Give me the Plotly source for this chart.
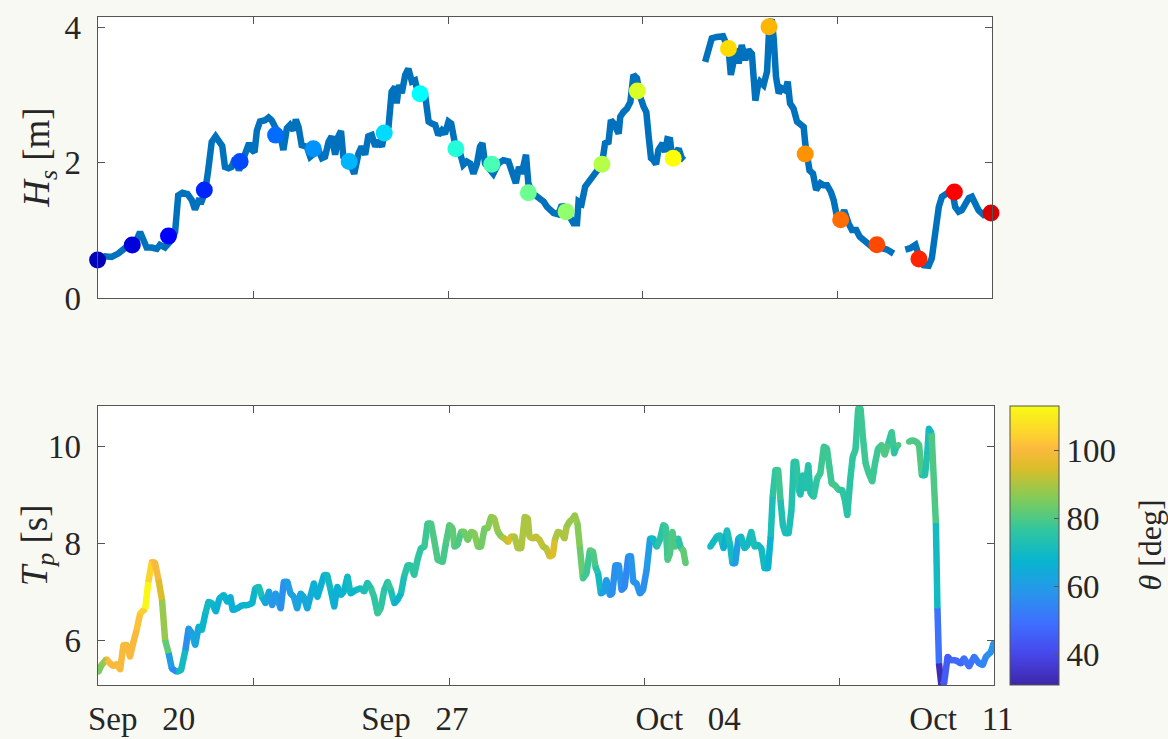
import pandas as pd
import plotly.graph_objects as go
from plotly.colors import sample_colorscale

# ---------------------------------------------------------------------------
# Data
# ---------------------------------------------------------------------------
RECORD_START = pd.Timestamp("2023-09-19 00:00")

# Significant wave height: time in days since RECORD_START, Hs in metres
# (None marks a gap in the record)
hs_day = [0.00, 0.19, 0.36, 0.53, 0.70, 0.88, 1.00, 1.09, 1.18, 1.26, 1.39, 1.52,
          1.60, 1.73, 1.90, 1.99, 2.07, 2.18, 2.31, 2.42, 2.50, 2.59, 2.67, 2.76,
          2.84, 2.93, 3.03, 3.12, 3.20, 3.27, 3.36, 3.44, 3.53, 3.63, 3.74, 3.83,
          3.89, 3.96, 4.03, 4.09, 4.17, 4.30, 4.39, 4.47, 4.56, 4.64, 4.71, 4.77,
          4.86, 4.94, 5.03, 5.09, 5.16, 5.24, 5.37, 5.46, 5.54, 5.67, 5.76, 5.84,
          5.93, 6.01, 6.10, 6.18, 6.25, 6.31, 6.40, 6.48, 6.59, 6.70, 6.78, 6.87,
          6.95, 7.04, 7.13, 7.21, 7.30, 7.37, 7.47, 7.55, 7.64, 7.68, 7.74, 7.81,
          7.90, 7.98, 8.07, 8.15, 8.19, 8.28, 8.41, 8.50, 8.58, 8.67, 8.75, 8.84,
          8.92, 9.01, 9.08, 9.14, 9.20, 9.31, 9.39, 9.48, 9.57, 9.65, 9.74, 9.82,
          9.88, 9.95, 10.04, 10.16, 10.29, 10.42, 10.55, 10.64, 10.74, 10.82, 10.89,
          11.00, 11.06, 11.15, 11.28, 11.45, 11.54, 11.62, 11.71, 11.83, 11.92,
          12.03, 12.13, 12.22, 12.31, 12.35, 12.43, 12.52, 12.61, 12.73, 12.86,
          12.95, 13.03, 13.12, 13.18, 13.26, 13.38, 13.42, 13.50, 13.59, 13.68,
          13.76, 13.85, 13.93, 14.02, 14.09, 14.15, 14.21, 14.27, 14.34, 14.40,
          14.46, 14.51, 14.57, 14.63, 14.70, 14.75, 14.83, 14.92, 15.00, 15.06,
          None,
          15.60, 15.69, 15.77, 15.90, 16.06, 16.12, 16.20, 16.26, 16.33, 16.40,
          16.46, 16.54, 16.63, 16.71, 16.80, 16.89, 16.95, 17.01, 17.10, 17.19,
          17.25, 17.31, 17.36, 17.42, 17.49, 17.57, 17.66, 17.72, 17.78, 17.87,
          17.96, 18.04, 18.13, 18.17, 18.21, 18.28, 18.37, 18.45, 18.56, 18.64,
          18.73, 18.83, 18.90, 18.97, 19.07, 19.17, 19.28, 19.37, 19.48, 19.57,
          19.67, 19.75, 19.88, 20.01, 20.14, 20.27, 20.35, 20.44,
          None,
          20.74, 20.87, 21.00, 21.12, 21.21, 21.34, 21.42, 21.51, 21.60, 21.68,
          21.81, 21.94, 22.02, 22.11, 22.19, 22.28, 22.37, 22.45, 22.54, 22.62,
          22.75, 22.88, 22.95]
hs_m = [0.57, 0.62, 0.61, 0.66, 0.74, 0.81, 0.86, 0.98, 0.86, 0.75, 0.75, 0.73,
        0.79, 0.75, 0.86, 0.98, 1.52, 1.56, 1.54, 1.45, 1.31, 1.44, 1.43, 1.57,
        1.89, 2.31, 2.39, 2.29, 2.25, 1.94, 1.92, 1.94, 2.07, 1.89, 2.09, 2.19,
        2.29, 2.19, 2.16, 2.48, 2.61, 2.63, 2.67, 2.63, 2.51, 2.40, 2.36, 2.19,
        2.51, 2.56, 2.48, 2.64, 2.53, 2.26, 2.24, 2.09, 2.14, 2.19, 2.07, 2.09,
        2.31, 2.39, 2.12, 2.39, 2.47, 2.09, 2.04, 1.99, 1.84, 2.14, 2.24, 2.12,
        2.39, 2.41, 2.24, 2.33, 2.24, 2.44, 2.53, 3.05, 3.12, 2.88, 3.15, 3.03,
        3.30, 3.39, 3.20, 3.22, 3.12, 3.02, 3.00, 2.61, 2.58, 2.56, 2.41, 2.48,
        2.43, 2.61, 2.58, 2.33, 2.21, 2.14, 1.97, 2.02, 1.99, 1.84, 1.99, 2.24,
        2.29, 1.99, 1.94, 1.84, 1.99, 2.04, 2.02, 1.84, 1.70, 1.94, 1.84,
        2.12, 1.70, 1.56, 1.50, 1.43, 1.35, 1.30, 1.26, 1.24, 1.38,
        1.30, 1.20, 1.11, 1.11, 1.43, 1.40, 1.65, 1.72, 1.80, 1.89,
        1.98, 2.29, 2.31, 2.63, 2.58, 2.43, 2.68, 2.75, 2.80, 2.90,
        3.30, 3.25, 2.98, 2.83, 2.75, 2.39, 2.07, 2.04, 1.98, 2.19,
        2.24, 2.29, 2.16, 2.35, 2.34, 2.09, 2.14, 2.21, 2.07, 2.04,
        None,
        3.49, 3.67, 3.84, 3.86, 3.87, 3.79, 3.69, 3.30, 3.57, 3.69,
        3.47, 3.74, 3.52, 3.67, 3.61, 2.92, 3.12, 3.20, 3.15, 3.35,
        4.05, 4.12, 3.84, 3.27, 3.03, 3.10, 3.07, 3.20, 2.88, 2.80,
        2.61, 2.56, 2.53, 2.29, 2.13, 1.89, 1.84, 1.60, 1.70, 1.67,
        1.67, 1.57, 1.45, 1.25, 1.16, 1.30, 1.11, 1.01, 1.01, 0.91,
        0.86, 0.81, 0.76, 0.79, 0.74, 0.72, 0.69, 0.66,
        None,
        0.72, 0.74, 0.79, 0.57, 0.49, 0.48, 0.59, 0.96, 1.35, 1.50,
        1.56, 1.60, 1.35, 1.28, 1.30, 1.40, 1.48, 1.50, 1.40, 1.30,
        1.23, 1.25, 1.28]

# Sampled Hs values, drawn as coloured dots in sample order
sample_day = [0.00, 0.89, 1.82, 2.74, 3.66, 4.57, 5.54, 6.46, 7.36, 8.28, 9.20,
              10.12, 11.06, 12.03, 12.95, 13.86, 14.78, 16.20, 17.24, 18.17,
              19.08, 20.01, 21.09, 22.00, 22.94]
sample_hs = [0.565, 0.787, 0.92, 1.60, 2.02, 2.41, 2.21, 2.02, 2.44, 3.02, 2.21,
             1.98, 1.56, 1.28, 1.98, 3.06, 2.07, 3.69, 4.01, 2.13,
             1.16, 0.79, 0.58, 1.57, 1.26]

# Peak period (s) and wave direction theta (deg)
tp_day = [0.02, 0.10, 0.23, 0.32, 0.40, 0.49, 0.58, 0.66, 0.75, 0.83, 0.92, 1.00,
          1.09, 1.22, 1.30, 1.39, 1.47, 1.56, 1.65, 1.73, 1.82, 1.90, 2.03, 2.14,
          2.25, 2.33, 2.42, 2.50, 2.59, 2.67, 2.76, 2.84, 2.93, 3.03, 3.12, 3.23,
          3.32, 3.40, 3.46, 3.57, 3.70, 3.83, 3.96, 4.04, 4.13, 4.21, 4.30, 4.39,
          4.47, 4.56, 4.69, 4.77, 4.86, 4.94, 5.03, 5.11, 5.20, 5.28, 5.37, 5.46,
          5.54, 5.63, 5.71, 5.80, 5.88, 5.97, 6.06, 6.14, 6.23, 6.31, 6.40, 6.48,
          6.61, 6.74, 6.83, 6.91, 7.00, 7.08, 7.17, 7.25, 7.34, 7.43, 7.51, 7.60,
          7.68, 7.77, 7.85, 7.94, 8.02, 8.11, 8.20, 8.28, 8.37, 8.45, 8.54, 8.62,
          8.71, 8.84, 8.92, 9.01, 9.09, 9.14, 9.22, 9.31, 9.39, 9.48, 9.57, 9.65,
          9.74, 9.82, 9.91, 9.99, 10.08, 10.16, 10.25, 10.34, 10.42, 10.51, 10.59,
          10.68, 10.76, 10.85, 10.94, 11.02, 11.06, 11.15, 11.23, 11.32, 11.41,
          11.49, 11.58, 11.66, 11.71, 11.79, 11.88, 11.96, 12.01, 12.09, 12.18,
          12.22, 12.29, 12.35, 12.43, 12.52, 12.61, 12.69, 12.75, 12.82, 12.89,
          12.97, 13.03, 13.12, 13.18, 13.26, 13.35, 13.42, 13.50, 13.59, 13.66,
          13.72, 13.80, 13.89, 13.97, 14.06, 14.15, 14.23, 14.32, 14.40, 14.49,
          14.55, 14.60, 14.66, 14.72, 14.79, 14.87, 14.94, 15.00, 15.06,
          None,
          15.69, 15.77, 15.86, 15.94, 16.03, 16.12, 16.20, 16.26, 16.33, 16.41,
          16.48, 16.57, 16.65, 16.74, 16.83, 16.91, 17.00, 17.08, 17.17, 17.24,
          17.29, 17.36, 17.43, 17.49, 17.55, 17.61, 17.70, 17.77, 17.83, 17.89,
          17.96, 18.00, 18.06, 18.13, 18.20, 18.26, 18.34, 18.43, 18.51, 18.60,
          18.68, 18.74, 18.80, 18.88, 18.98, 19.07, 19.14, 19.20, 19.28, 19.34,
          19.41, 19.48, 19.54, 19.60, 19.67, 19.75, 19.84, 19.91, 19.99, 20.08,
          20.16, 20.25, 20.34, 20.40, 20.46, 20.51,
          None,
          20.78, 20.87, 20.97, 21.04, 21.11, 21.19, 21.25, 21.29, 21.36, 21.47,
          21.51, 21.55, 21.61, 21.68, 21.77, 21.85, 21.98, 22.11, 22.19, 22.32,
          22.45, 22.58, 22.67, 22.75, 22.88, 22.95]
tp_s = [5.36, 5.50, 5.62, 5.53, 5.48, 5.52, 5.41, 5.91, 5.91, 5.67, 5.98, 6.22,
        6.56, 6.66, 7.21, 7.62, 7.60, 7.25, 6.84, 6.01, 5.74, 5.43, 5.36, 5.40,
        5.81, 6.25, 6.15, 5.91, 6.29, 6.22, 6.56, 6.80, 6.77, 6.60, 6.87, 6.94,
        6.80, 6.90, 6.63, 6.66, 6.73, 6.73, 6.77, 7.08, 7.11, 6.90, 6.77, 7.01,
        6.73, 6.97, 6.66, 7.21, 7.21, 6.97, 6.90, 6.66, 6.97, 6.90, 6.66, 6.94,
        7.18, 6.90, 7.11, 7.35, 7.35, 7.04, 6.70, 7.11, 6.94, 7.01, 7.32, 6.97,
        7.04, 7.08, 7.01, 7.19, 7.08, 6.90, 6.56, 6.66, 7.04, 7.21, 7.04, 6.77,
        6.84, 6.97, 7.32, 7.55, 7.55, 7.35, 7.69, 7.90, 7.93, 8.41, 8.41, 8.07,
        7.66, 7.62, 8.00, 8.38, 8.31, 7.93, 7.97, 8.24, 8.24, 8.07, 8.24, 8.21,
        7.93, 7.93, 8.31, 8.31, 8.55, 8.51, 8.24, 8.14, 8.10, 8.03, 8.14,
        8.14, 7.90, 7.90, 8.55, 8.51, 8.14, 8.10, 8.14, 8.07, 7.93,
        7.90, 7.73, 7.76, 8.07, 8.24, 8.21, 8.10, 8.34, 8.45, 8.51,
        8.58, 8.41, 7.93, 7.28, 7.38, 7.86, 7.83, 7.52, 7.38, 6.97,
        7.01, 7.25, 6.94, 6.97, 7.55, 7.55, 7.04, 7.11, 7.73, 7.74,
        7.21, 7.18, 6.97, 7.04, 7.45, 8.10, 8.10, 7.93, 8.07, 8.38,
        8.34, 7.66, 7.79, 8.24, 7.93, 8.10, 7.90, 7.86, 7.59,
        None,
        7.93, 8.03, 8.14, 8.17, 7.90, 8.27, 7.97, 7.59, 7.59, 8.10,
        8.14, 7.90, 7.97, 8.24, 7.93, 7.97, 7.90, 7.49, 7.49, 8.14,
        8.96, 9.51, 9.51, 8.89, 8.38, 8.21, 8.21, 8.68, 9.68, 9.68,
        9.10, 9.00, 9.40, 9.13, 9.61, 9.03, 8.96, 9.34, 9.44, 9.99,
        9.95, 9.58, 9.23, 9.20, 9.10, 9.10, 8.89, 8.58, 9.34, 9.78,
        9.92, 10.77, 10.77, 10.19, 9.64, 9.44, 9.27, 9.64, 9.95, 10.02,
        9.82, 10.05, 10.29, 9.85, 9.99, 10.02,
        None,
        10.09, 10.12, 10.09, 10.02, 9.40, 9.40, 9.85, 10.36, 10.26, 8.41,
        6.66, 5.53, 5.09, 5.12, 5.67, 5.60, 5.60, 5.53, 5.64, 5.47,
        5.67, 5.53, 5.50, 5.67, 5.77, 5.95]
tp_dir = [85, 88, 100, 100, 100, 100, 100, 100, 100, 100, 100, 102,
          104, 112, 105, 100, 100, 95, 88, 82, 60, 55, 70, 70,
          57, 60, 63, 63, 68, 68, 70, 70, 68, 66, 68, 68,
          66, 66, 66, 66, 68, 68, 68, 72, 72, 66, 63, 62,
          58, 60, 57, 60, 60, 62, 62, 62, 64, 64, 64, 65,
          66, 66, 66, 70, 70, 68, 65, 66, 68, 68, 70, 68,
          70, 72, 72, 74, 77, 76, 78, 76, 74, 77, 72, 66,
          68, 72, 75, 76, 76, 76, 76, 76, 78, 79, 80, 80,
          79, 79, 80, 82, 82, 80, 80, 84, 84, 84, 86, 86,
          84, 84, 85, 86, 88, 88, 86, 90, 92, 95, 92,
          90, 90, 90, 90, 90, 92, 92, 92, 92, 90,
          92, 95, 95, 90, 90, 90, 90, 88, 88, 88,
          88, 86, 83, 78, 78, 82, 80, 74, 70, 60,
          60, 60, 57, 57, 58, 58, 55, 55, 58, 58,
          58, 58, 57, 57, 60, 70, 70, 75, 75, 78,
          78, 80, 80, 80, 80, 75, 82, 82, 82,
          None,
          70, 70, 72, 72, 66, 72, 70, 61, 61, 70,
          70, 70, 70, 72, 72, 70, 70, 67, 67, 72,
          76, 78, 78, 73, 72, 72, 72, 74, 76, 76,
          73, 73, 74, 74, 74, 74, 76, 78, 78, 78,
          78, 78, 79, 79, 76, 76, 75, 75, 76, 77,
          77, 78, 78, 78, 78, 78, 78, 78, 78, 80,
          80, 76, 78, 76, 80, 80,
          None,
          80, 80, 80, 80, 74, 74, 72, 70, 80, 70,
          50, 33, 45, 45, 45, 48, 48, 48, 50, 50,
          52, 55, 55, 57, 58, 60]

theta_limits = [31, 113]
hs_ticks = [0, 2, 4]
tp_ticks = [6, 8, 10]
theta_ticks = [40, 60, 80, 100]
tick_dates = ["2023-09-23", "2023-09-28", "2023-10-03", "2023-10-08"]
label_dates = ["2023-09-20 03:00", "2023-09-27 03:00", "2023-10-04 03:00", "2023-10-11 03:00"]
GAP = "\u00a0\u00a0\u00a0"
label_text = ["Sep" + GAP + "20", "Sep" + GAP + "27", "Oct" + GAP + "04", "Oct" + GAP + "11"]
time_range = ["2023-09-19 00:00", "2023-10-11 23:00"]

# ---------------------------------------------------------------------------
# Styling
# ---------------------------------------------------------------------------
FONT = "Liberation Serif"
TEXT = "#262626"
AXIS = "#555555"
LINE_BLUE = "#0072BD"
TICK_SIZE = 33
YTITLE_SIZE = 37
CTITLE_SIZE = 32

JET = [[0.0, "rgb(0,0,128)"], [0.125, "rgb(0,0,255)"], [0.375, "rgb(0,255,255)"],
       [0.625, "rgb(255,255,0)"], [0.875, "rgb(255,0,0)"], [1.0, "rgb(128,0,0)"]]
PARULA = [[0.000, "rgb(62,38,168)"], [0.111, "rgb(71,71,235)"],
          [0.222, "rgb(62,111,255)"], [0.333, "rgb(39,150,235)"],
          [0.444, "rgb(8,181,208)"], [0.556, "rgb(49,198,159)"],
          [0.667, "rgb(129,204,89)"], [0.778, "rgb(220,189,41)"],
          [0.850, "rgb(252,186,62)"], [0.889, "rgb(252,207,48)"],
          [1.000, "rgb(249,251,21)"]]


def to_time(days):
    return [None if d is None else RECORD_START + pd.Timedelta(days=d) for d in days]


hs_time = to_time(hs_day)
sample_time = to_time(sample_day)
tp_time = to_time(tp_day)
sample_order = list(range(1, len(sample_day) + 1))

# points of the Tp record without the gap markers
tp_valid = [i for i, d in enumerate(tp_day) if d is not None]

# panel frames in pixels (left, right, top, bottom) on the 1168 x 739 page
W, H = 1168, 739
TOP_FRAME = (97.6, 991.7, 17.3, 298.3)
BOT_FRAME = (97.6, 994.0, 405.7, 685.0)
CBAR_FRAME = (1010.0, 1059.0, 406.0, 685.0)


def xdom(f):
    return [f[0] / W, f[1] / W]


def ydom(f):
    return [1 - f[3] / H, 1 - f[2] / H]


def mid_y(f):
    return 1 - (f[2] + f[3]) / 2 / H


fig = go.Figure()

# --- top panel: Hs line with sampled dots ---------------------------------
fig.add_trace(go.Scatter(x=hs_time, y=hs_m, mode="lines",
                         line=dict(color=LINE_BLUE, width=6.5),
                         connectgaps=False, hoverinfo="skip",
                         xaxis="x", yaxis="y"))
fig.add_trace(go.Scatter(x=sample_time, y=sample_hs, mode="markers",
                         marker=dict(size=17, color=sample_order, colorscale=JET,
                                     cmin=-0.5, cmax=27.5, line=dict(width=0)),
                         cliponaxis=False, xaxis="x", yaxis="y"))

# --- bottom panel: Tp line coloured by direction --------------------------
t_lo, t_hi = theta_limits
fig.add_trace(go.Scatter(
    x=[tp_time[i] for i in tp_valid], y=[tp_s[i] for i in tp_valid],
    mode="markers",
    marker=dict(size=6, color=[tp_dir[i] for i in tp_valid], colorscale=PARULA,
                cmin=t_lo, cmax=t_hi, line=dict(width=0),
                colorbar=dict(
                    x=CBAR_FRAME[0] / W, xanchor="left", xpad=0,
                    y=1 - CBAR_FRAME[3] / H, yanchor="bottom", ypad=0,
                    len=(CBAR_FRAME[3] - CBAR_FRAME[2]) / H, lenmode="fraction",
                    thickness=CBAR_FRAME[1] - CBAR_FRAME[0], thicknessmode="pixels",
                    outlinewidth=1, outlinecolor=AXIS,
                    ticks="inside", ticklen=5, tickcolor=AXIS,
                    tickvals=theta_ticks, tickprefix="\u2009",
                    tickfont=dict(family=FONT, size=TICK_SIZE, color=TEXT),
                )),
    hoverinfo="skip", xaxis="x2", yaxis="y2"))

for i in range(len(tp_day) - 1):
    if tp_day[i] is None or tp_day[i + 1] is None:
        continue
    pos = (tp_dir[i] - t_lo) / (t_hi - t_lo)
    colour = sample_colorscale(PARULA, [pos])[0]
    fig.add_trace(go.Scatter(x=[tp_time[i], tp_time[i + 1]], y=[tp_s[i], tp_s[i + 1]],
                             mode="lines", line=dict(color=colour, width=6.5),
                             hoverinfo="skip", xaxis="x2", yaxis="y2"))

axis_common = dict(showline=True, linecolor=AXIS, linewidth=1, mirror="ticks",
                   showgrid=False, zeroline=False, tickcolor=AXIS, ticklen=7,
                   automargin=False,
                   tickfont=dict(family=FONT, size=TICK_SIZE, color=TEXT))


def side_title(text, x_px, y_frac, size):
    return dict(text=text, textangle=-90, x=x_px / W, y=y_frac,
                xref="paper", yref="paper", xanchor="center", yanchor="middle",
                showarrow=False, font=dict(family=FONT, size=size, color=TEXT))


fig.update_layout(
    width=W, height=H,
    margin=dict(l=0, r=0, t=0, b=0, autoexpand=False),
    paper_bgcolor="#F9F9F4", plot_bgcolor="white",
    showlegend=False,
    font=dict(family=FONT, color=TEXT),
    xaxis=dict(domain=xdom(TOP_FRAME), anchor="y", type="date",
               range=time_range, tickmode="array", tickvals=tick_dates,
               showticklabels=False, ticks="inside", **axis_common),
    yaxis=dict(domain=ydom(TOP_FRAME), anchor="x",
               range=[0, 4.15], tickmode="array", tickvals=hs_ticks,
               ticks="inside", ticklabelstandoff=9, **axis_common),
    xaxis2=dict(domain=xdom(BOT_FRAME), anchor="y2", type="date",
                range=time_range, tickmode="array", tickvals=label_dates,
                ticktext=label_text, ticks="", ticklabelstandoff=4,
                minor=dict(tickmode="array", tickvals=tick_dates, ticks="inside",
                           ticklen=7, tickcolor=AXIS, showgrid=False),
                **axis_common),
    yaxis2=dict(domain=ydom(BOT_FRAME), anchor="x2",
                range=[5.09, 10.83], tickmode="array", tickvals=tp_ticks,
                ticks="inside", ticklabelstandoff=9, **axis_common),
    annotations=[
        side_title("<i>H</i><sub><i>s</i></sub> [m]", 40, mid_y(TOP_FRAME), YTITLE_SIZE),
        side_title("<i>T</i><sub><i>p</i></sub> [s]", 37, mid_y(BOT_FRAME), YTITLE_SIZE),
        side_title("<i>θ</i> [deg]", 1149, mid_y(CBAR_FRAME), CTITLE_SIZE),
    ],
)

fig.write_html("out.html")
